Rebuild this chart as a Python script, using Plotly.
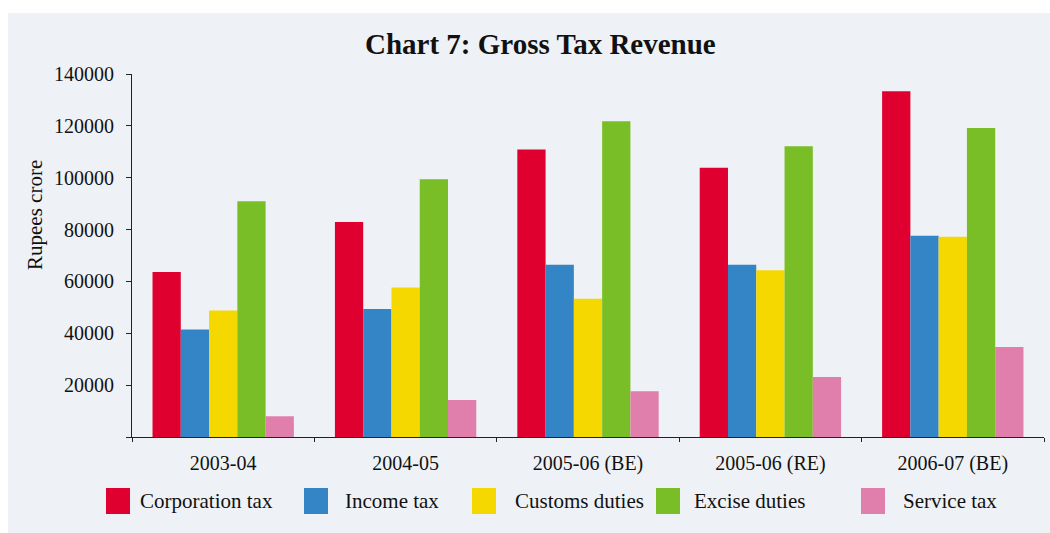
import plotly.graph_objects as go

categories = ["2003-04", "2004-05", "2005-06 (BE)", "2005-06 (RE)", "2006-07 (BE)"]
corporation_tax = [63600, 82900, 110900, 103800, 133300]
income_tax = [41500, 49400, 66400, 66400, 77600]
customs_duties = [48800, 57700, 53300, 64300, 77200]
excise_duties = [90900, 99400, 121800, 112100, 119200]
service_tax = [8000, 14300, 17600, 23100, 34700]

series_names = ["Corporation tax", "Income tax", "Customs duties", "Excise duties", "Service tax"]
series_values = [corporation_tax, income_tax, customs_duties, excise_duties, service_tax]
colors = ["#df0030", "#3485c6", "#f5d800", "#79be26", "#e07fab"]

y_tick_vals = [0, 20000, 40000, 60000, 80000, 100000, 120000, 140000]
y_tick_text = ["", "20000", "40000", "60000", "80000", "100000", "120000", "140000"]

W, H = 1050, 533
L, R, T, B = 132, 6, 74, 96
PW, PH = W - L - R, H - T - B


def px(x):
    return (x - L) / PW


def py(y):
    return (H - B - y) / PH


FONT = "Liberation Serif, Times New Roman, serif"

fig = go.Figure()
for name, vals, col in zip(series_names, series_values, colors):
    fig.add_trace(go.Bar(x=categories, y=vals, name=name, marker=dict(color=col, line=dict(width=0)),
                         showlegend=False))

shapes = [dict(type="rect", xref="paper", yref="paper", x0=px(8), x1=px(1052), y0=py(13), y1=py(535),
               fillcolor="#eef2f6", line=dict(width=0), layer="below")]
annotations = [
    dict(text="<b>Chart 7: Gross Tax Revenue</b>", xref="paper", yref="paper", x=px(540), y=py(44),
         showarrow=False, font=dict(family=FONT, size=29, color="#111"), xanchor="center", yanchor="middle"),
    dict(text="Rupees crore", xref="paper", yref="paper", x=px(35), y=py(215), textangle=-90,
         showarrow=False, font=dict(family=FONT, size=21, color="#111"), xanchor="center", yanchor="middle"),
]

leg_sq_x = [106, 304, 472, 656, 861]
leg_tx_x = [138, 343, 513, 692, 901]
for i, (name, col) in enumerate(zip(series_names, colors)):
    shapes.append(dict(type="rect", xref="paper", yref="paper", x0=px(leg_sq_x[i]), x1=px(leg_sq_x[i] + 24),
                       y0=py(514), y1=py(488), fillcolor=col, line=dict(width=0)))
    annotations.append(dict(text=name, xref="paper", yref="paper", x=px(leg_tx_x[i]), y=py(501),
                            showarrow=False, xanchor="left", yanchor="middle",
                            font=dict(family=FONT, size=21, color="#111")))

fig.update_layout(
    width=W, height=H,
    margin=dict(l=L, r=R, t=T, b=B),
    paper_bgcolor="white", plot_bgcolor="rgba(0,0,0,0)",
    barmode="group", bargap=0.225, bargroupgap=0,
    shapes=shapes, annotations=annotations,
    font=dict(family=FONT, size=20, color="#111"),
)
fig.update_xaxes(type="category", showline=True, linecolor="#222", linewidth=1, ticks="outside", ticklen=4,
                 tickcolor="#222", tickson="boundaries", showgrid=False, ticklabelstandoff=8,
                 tickfont=dict(family=FONT, size=20, color="#111"))
fig.update_yaxes(range=[0, 140000], showline=True, linecolor="#222", linewidth=1, ticks="outside", ticklen=5,
                 tickcolor="#222", tickvals=y_tick_vals, ticktext=y_tick_text, showgrid=False, zeroline=False,
                 ticklabelstandoff=8, tickfont=dict(family=FONT, size=20, color="#111"))

fig.write_html("out.html")
